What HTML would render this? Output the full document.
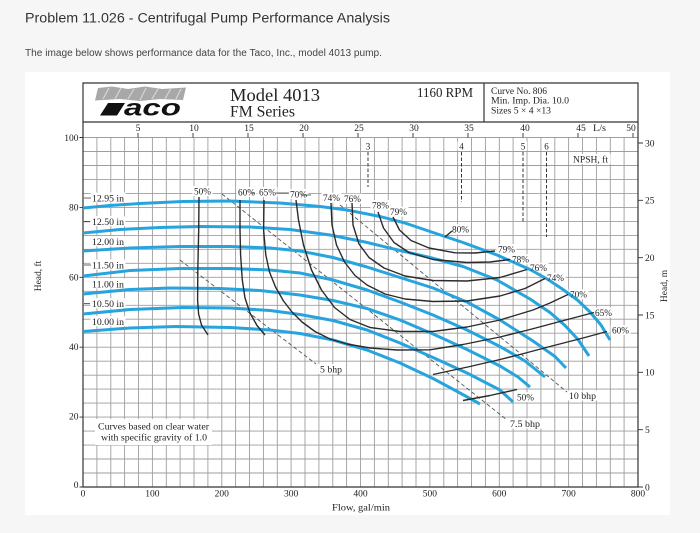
<!DOCTYPE html>
<html><head><meta charset="utf-8">
<style>
html,body{margin:0;padding:0;background:#f6f6f6;width:700px;height:533px;overflow:hidden}
svg{display:block}
.s{font-family:"Liberation Serif",serif;fill:#222}
.a{font-family:"Liberation Sans",sans-serif}
.e{font-family:"Liberation Serif",serif;fill:#222;font-size:9.5px}
</style></head><body>
<svg width="700" height="533" viewBox="0 0 700 533" xmlns="http://www.w3.org/2000/svg">
<rect width="700" height="533" fill="#f6f6f6"/>
<text class="a" x="25" y="22.5" font-size="13.5" fill="#333" textLength="365" lengthAdjust="spacingAndGlyphs">Problem 11.026 - Centrifugal Pump Performance Analysis</text>
<text class="a" x="25" y="56" font-size="10" fill="#444" textLength="357" lengthAdjust="spacingAndGlyphs">The image below shows performance data for the Taco, Inc., model 4013 pump.</text>
<rect x="25" y="72" width="645" height="443" fill="#fff"/>

<!-- grid -->
<path fill="none" stroke="#9e9e9e" stroke-width="0.9" d="M96.9 137.5V487M110.8 137.5V487M124.6 137.5V487M138.5 137.5V487M152.4 137.5V487M166.3 137.5V487M180.1 137.5V487M194 137.5V487M207.9 137.5V487M221.8 137.5V487M235.6 137.5V487M249.5 137.5V487M263.4 137.5V487M277.3 137.5V487M291.1 137.5V487M305 137.5V487M318.9 137.5V487M332.8 137.5V487M346.6 137.5V487M360.5 137.5V487M374.4 137.5V487M388.3 137.5V487M402.1 137.5V487M416 137.5V487M429.9 137.5V487M443.8 137.5V487M457.6 137.5V487M471.5 137.5V487M485.4 137.5V487M499.3 137.5V487M513.1 137.5V487M527 137.5V487M540.9 137.5V487M554.8 137.5V487M568.6 137.5V487M582.5 137.5V487M596.4 137.5V487M610.3 137.5V487M624.1 137.5V487
M83 473H638M83 459H638M83 445.1H638M83 431.1H638M83 417.1H638M83 403.1H638M83 389.1H638M83 375.2H638M83 361.2H638M83 347.2H638M83 333.2H638M83 319.2H638M83 305.3H638M83 291.3H638M83 277.3H638M83 263.3H638M83 249.3H638M83 235.4H638M83 221.4H638M83 207.4H638M83 193.4H638M83 179.4H638M83 165.5H638M83 151.5H638M83 137.5H638"/>

<!-- borders -->
<path fill="none" stroke="#333" stroke-width="1.2" d="M83 83H638V487H83Z M83 122H638 M484 83V122"/>
<!-- top L/s ticks -->
<path fill="none" stroke="#333" stroke-width="0.9" d="M138 133V137.5M193 133V137.5M248 133V137.5M303 133V137.5M358 133V137.5M413 133V137.5M468 133V137.5M523 133V137.5M578 133V137.5M633 133V137.5"/>
<!-- right ticks -->
<path fill="none" stroke="#333" stroke-width="0.9" d="M638 143H643M638 200.3H643M638 257.7H643M638 315H643M638 372.3H643M638 429.7H643M638 487H643 M79.5 137.5H83M79.5 207.4H83M79.5 277.3H83M79.5 347.2H83M79.5 417.1H83M79.5 487H83"/>

<!-- header -->
<polygon points="98,88 112,86.5 128,89 145,86.5 162,89 186,87.5 183,100 160,99 140,101 120,99 95,100.5" fill="#a8a8a8"/>
<path stroke="#d6d6d6" stroke-width="1.2" fill="none" d="M103 99L109 88M115 99L121 88M128 99L134 89M140 100L146 88M152 99L158 89M165 99L171 88M176 99L181 89"/>
<polygon points="108,103 125,103 117,115.5 100,115.5" fill="#111"/>
<text class="a" x="124" y="115.5" font-size="23" font-weight="bold" font-style="italic" fill="#111" textLength="57" lengthAdjust="spacingAndGlyphs">aco</text>
<text class="s" x="230" y="101" font-size="18" textLength="90" lengthAdjust="spacingAndGlyphs">Model 4013</text>
<text class="s" x="230" y="116.5" font-size="16" textLength="65" lengthAdjust="spacingAndGlyphs">FM Series</text>
<text class="s" x="417" y="97" font-size="13.5" textLength="56" lengthAdjust="spacingAndGlyphs">1160 RPM</text>
<text class="s" x="491" y="94" font-size="9" textLength="56" lengthAdjust="spacingAndGlyphs">Curve No. 806</text>
<text class="s" x="491" y="103.5" font-size="9" textLength="78" lengthAdjust="spacingAndGlyphs">Min. Imp. Dia. 10.0</text>
<text class="s" x="491" y="113.5" font-size="9" textLength="60" lengthAdjust="spacingAndGlyphs">Sizes 5 × 4 ×13</text>

<!-- top axis labels -->
<g class="s" font-size="9.5" text-anchor="middle">
<text x="138" y="131">5</text><text x="194" y="131">10</text><text x="249" y="131">15</text><text x="304" y="131">20</text><text x="359" y="131">25</text><text x="414" y="131">30</text><text x="469" y="131">35</text><text x="525" y="131">40</text><text x="581" y="131">45</text><text x="631" y="131">50</text>
</g>
<text class="s" x="593" y="131" font-size="9.5" textLength="13" lengthAdjust="spacingAndGlyphs">L/s</text>

<!-- left axis -->
<g class="s" font-size="9.5" text-anchor="end">
<text x="78.5" y="141">100</text><text x="78.5" y="210.5">80</text><text x="78.5" y="280.5">60</text><text x="78.5" y="350">40</text><text x="78.5" y="419.5">20</text><text x="78.5" y="488">0</text>
</g>
<text class="s" font-size="9.5" text-anchor="middle" transform="translate(41,276) rotate(-90)">Head, ft</text>
<!-- right axis -->
<g class="s" font-size="9.5">
<text x="645" y="146.3">30</text><text x="645" y="203.6">25</text><text x="645" y="261">20</text><text x="645" y="318.3">15</text><text x="645" y="375.6">10</text><text x="645" y="433">5</text><text x="645" y="490.3">0</text>
</g>
<text class="s" font-size="9.5" text-anchor="middle" transform="translate(667,286) rotate(-90)">Head, m</text>
<!-- bottom axis -->
<g class="s" font-size="9.5" text-anchor="middle">
<text x="83" y="496.5">0</text><text x="152.4" y="496.5">100</text><text x="221.8" y="496.5">200</text><text x="291.1" y="496.5">300</text><text x="360.5" y="496.5">400</text><text x="429.9" y="496.5">500</text><text x="499.3" y="496.5">600</text><text x="568.6" y="496.5">700</text><text x="638" y="496.5">800</text>
</g>
<text class="s" x="332" y="510.5" font-size="9.5" textLength="58" lengthAdjust="spacingAndGlyphs">Flow, gal/min</text>

<!-- white label backgrounds -->
<g fill="#fff">
<rect x="90.5" y="192.5" width="35" height="10"/>
<rect x="90.5" y="216.2" width="35" height="10"/>
<rect x="90.5" y="236.2" width="35" height="10"/>
<rect x="90.5" y="259.5" width="35" height="10"/>
<rect x="90.5" y="278.5" width="35" height="10"/>
<rect x="90.5" y="298.2" width="35" height="10"/>
<rect x="90.5" y="316.2" width="35" height="10"/>
<rect x="192.5" y="186" width="20" height="10"/>
<rect x="236.5" y="187" width="20" height="10"/>
<rect x="257.5" y="187" width="20" height="10"/>
<rect x="288.5" y="189" width="20" height="10"/>
<rect x="321.5" y="192.7" width="20" height="10"/>
<rect x="342.5" y="193.7" width="20" height="10"/>
<rect x="370.5" y="200" width="20" height="10"/>
<rect x="388.5" y="206.7" width="20" height="10"/>
<rect x="450.5" y="224.3" width="20" height="10"/>
<rect x="496.5" y="244" width="20" height="10"/>
<rect x="510.5" y="254.3" width="20" height="10"/>
<rect x="528.5" y="262.7" width="20" height="10"/>
<rect x="545.5" y="272.7" width="20" height="10"/>
<rect x="568.5" y="289.3" width="20" height="10"/>
<rect x="593.5" y="307.7" width="20" height="10"/>
<rect x="610.5" y="325" width="20" height="10"/>
<rect x="515.5" y="392.3" width="20" height="10"/>
<rect x="318.5" y="364" width="26" height="10"/>
<rect x="508.5" y="418.5" width="34" height="10"/>
<rect x="567.5" y="390.5" width="31" height="10"/>
<rect x="571.5" y="154" width="39" height="10"/>
<rect x="364" y="141.5" width="8" height="9"/>
<rect x="457.5" y="141.5" width="8" height="9"/>
<rect x="519" y="141.5" width="8" height="9"/>
<rect x="542.5" y="141.5" width="8" height="9"/>
<rect x="95" y="419" width="117" height="26"/>
</g>

<!-- leaders -->
<path fill="none" stroke="#333" stroke-width="0.8" d="M84 198H91M84 221.7H90M84 265H91M84 303.7H90M276 193H289M251 193H255M301 195H311"/>

<!-- dashed bhp lines -->
<g fill="none" stroke="#555" stroke-width="0.9" stroke-dasharray="4 2.5">
<path d="M180 260L316 364"/>
<path d="M222 194L507 420"/>
<path d="M340 205L567 392"/>
</g>
<!-- NPSH lines -->
<g fill="none" stroke="#222" stroke-width="0.9" stroke-dasharray="3.5 2">
<path d="M368 152V187M461.5 152V202M523 152V223M546.5 152V237"/>
</g>

<!-- blue head curves -->
<g fill="none" stroke="#27a4dd" stroke-width="3" stroke-linejoin="round" stroke-linecap="butt">
<path d="M83,208 L110,205.5 L140,203.5 L183,201.5 L230,201 L280,203 L320,206.5 L347,210 L380,216.5 L405,223 L430,231.5 L463,242.5 L497,255 L530,269.5 L548,279.5 L563,289.5 L578,300.5 L590,312 L601,325 L610,340"/>
<path d="M83,233 L120,229.5 L160,227.5 L200,226.5 L250,227 L290,229.5 L330,235 L365,242 L400,250.5 L430,257.5 L463,266.5 L497,280 L530,299 L550,312.5 L565,325.5 L578,339.5 L589,356"/>
<path d="M83,251 L130,248 L180,246.5 L230,246.5 L270,248 L300,251 L333,257.5 L367,267 L400,277.5 L433,288 L467,302 L500,320 L533,341 L555,356.5 L566,368"/>
<path d="M83,276 L130,270.5 L180,268.5 L230,268.5 L270,270 L300,273 L333,280 L367,290 L400,302 L433,315 L467,330 L500,346.5 L525,361 L545,377"/>
<path d="M83,294 L130,289.5 L170,288 L220,288.5 L260,290.5 L300,295 L333,300.5 L367,308.5 L400,320 L433,334 L467,349.5 L500,366 L518,377 L530,387"/>
<path d="M83,314 L130,309.5 L183,307.5 L230,308 L270,310.5 L300,314.5 L333,320.5 L367,330 L400,343 L433,357.5 L467,373 L500,390 L513,402"/>
<path d="M83,331.5 L130,328 L176,326.5 L230,327.5 L270,330 L300,333.5 L333,340 L367,350 L400,363 L433,378.5 L460,393 L480,404"/>
</g>

<!-- efficiency curves -->
<g fill="none" stroke="#2b2b2b" stroke-width="1.4" stroke-linejoin="round">
<path d="M199,197 L198.7,230 L197.8,270 L197.6,300 L198.6,314 L201.5,325 L208,335"/>
<path d="M240,200 L240,230 L240.6,255 L242.3,280 L245,298 L250,313 L257,325.5 L265,335"/>
<path d="M264,200 L263.6,230 L265.8,255 L269.5,272 L275.5,287 L283.5,301 L292,312 L302,322 L315,331.5 L330,339 L347,344 L370,348 L397,350 L430,349.8 L463,344.5 L500,337 L530,329.5 L560,321.5 L594,312.5"/>
<path d="M296,200 L298.5,220 L303.5,245 L311.5,270 L321.5,290 L334.5,307.5 L350,319.5 L370,327.5 L400,331.5 L433,331.5 L467,327 L500,320 L533,310 L550,303 L568,294.5"/>
<path d="M331,203 L332,225 L336.5,245 L344.5,262 L355,275.5 L367,285 L385,294 L405,299 L433,301.5 L467,301 L500,296 L525,288.5 L545,278.5"/>
<path d="M352,203 L353,225 L359,244 L369,257.5 L384,268 L405,276 L433,280.5 L467,281 L500,277.5 L527,269.5"/>
<path d="M378,212 L383.5,228 L394,242.5 L409,252.5 L433,259.5 L467,262.5 L490,262 L510,259.5"/>
<path d="M393,217 L399.5,230 L411,240.5 L429,248 L455,252.8 L475,253 L495,251"/>
<path d="M433,374.5 L470,366.5 L500,359.5 L520,354.5 L550,346.5 L583,338 L607,331.5"/>
<path d="M463,400.5 L490,395.5 L517,389.5"/>
<path d="M445,237 L452,231"/>
</g>

<!-- diameter labels -->
<g class="s" font-size="9.5">
<text x="92" y="201.3" textLength="32" lengthAdjust="spacingAndGlyphs">12.95 in</text>
<text x="92" y="225" textLength="32" lengthAdjust="spacingAndGlyphs">12.50 in</text>
<text x="92" y="245" textLength="32" lengthAdjust="spacingAndGlyphs">12.00 in</text>
<text x="92" y="268.3" textLength="32" lengthAdjust="spacingAndGlyphs">11.50 in</text>
<text x="92" y="287.3" textLength="32" lengthAdjust="spacingAndGlyphs">11.00 in</text>
<text x="92" y="307" textLength="32" lengthAdjust="spacingAndGlyphs">10.50 in</text>
<text x="92" y="325" textLength="32" lengthAdjust="spacingAndGlyphs">10.00 in</text>
</g>

<!-- efficiency labels -->
<g class="e">
<text x="194" y="194.3" textLength="17" lengthAdjust="spacingAndGlyphs">50%</text>
<text x="238" y="195.5" textLength="17" lengthAdjust="spacingAndGlyphs">60%</text>
<text x="259" y="195.5" textLength="17" lengthAdjust="spacingAndGlyphs">65%</text>
<text x="290" y="197.3" textLength="17" lengthAdjust="spacingAndGlyphs">70%</text>
<text x="323" y="201" textLength="17" lengthAdjust="spacingAndGlyphs">74%</text>
<text x="344" y="202" textLength="17" lengthAdjust="spacingAndGlyphs">76%</text>
<text x="372" y="208.3" textLength="17" lengthAdjust="spacingAndGlyphs">78%</text>
<text x="390" y="215" textLength="17" lengthAdjust="spacingAndGlyphs">79%</text>
<text x="452" y="232.6" textLength="17" lengthAdjust="spacingAndGlyphs">80%</text>
<text x="498" y="252.3" textLength="17" lengthAdjust="spacingAndGlyphs">79%</text>
<text x="512" y="262.6" textLength="17" lengthAdjust="spacingAndGlyphs">78%</text>
<text x="530" y="271" textLength="17" lengthAdjust="spacingAndGlyphs">76%</text>
<text x="547" y="281" textLength="17" lengthAdjust="spacingAndGlyphs">74%</text>
<text x="570" y="297.6" textLength="17" lengthAdjust="spacingAndGlyphs">70%</text>
<text x="595" y="316" textLength="17" lengthAdjust="spacingAndGlyphs">65%</text>
<text x="612" y="333.3" textLength="17" lengthAdjust="spacingAndGlyphs">60%</text>
<text x="517" y="400.6" textLength="17" lengthAdjust="spacingAndGlyphs">50%</text>
<text x="320" y="372.5" textLength="22" lengthAdjust="spacingAndGlyphs">5 bhp</text>
<text x="510" y="427" textLength="30" lengthAdjust="spacingAndGlyphs">7.5 bhp</text>
<text x="569" y="399" textLength="27" lengthAdjust="spacingAndGlyphs">10 bhp</text>
<text x="573" y="162.5" textLength="35" lengthAdjust="spacingAndGlyphs">NPSH, ft</text>
</g>
<g class="s" font-size="9" text-anchor="middle">
<text x="368" y="149.5">3</text><text x="461.5" y="149.5">4</text><text x="523" y="149.5">5</text><text x="546.5" y="149.5">6</text>
</g>
<g class="s" font-size="9.5">
<text x="98" y="429.3" textLength="111" lengthAdjust="spacingAndGlyphs">Curves based on clear water</text>
<text x="101" y="440.6" textLength="106" lengthAdjust="spacingAndGlyphs">with specific gravity of 1.0</text>
</g>
</svg>
</body></html>
